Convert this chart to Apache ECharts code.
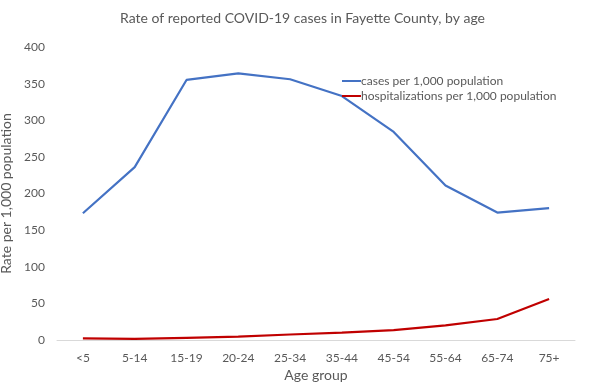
<!DOCTYPE html>
<html><head><meta charset="utf-8">
<script src="https://cdn.jsdelivr.net/npm/echarts@6/dist/echarts.min.js"></script>
<style>html,body{margin:0;padding:0;background:#fff}#c{width:595px;height:391px}</style>
</head><body><div id="c"></div>
<script>
const categories = ['<5','5-14','15-19','20-24','25-34','35-44','45-54','55-64','65-74','75+'];
const cases = [173, 236, 355, 364, 356, 333, 284, 211, 174, 180];
const hosp = [2.3, 1.4, 3, 4.5, 7.5, 10, 13.6, 20, 28.7, 56];
const yTicks = [0, 50, 100, 150, 200, 250, 300, 350, 400];
const font = 'Lato, "Open Sans", sans-serif';
const chart = echarts.init(document.getElementById('c'));
chart.setOption({
  animation: false,
  textStyle: { fontFamily: font },
  title: { text: 'Rate of reported COVID-19 cases in Fayette County, by age', left: 115, top: 6,
    textStyle: { fontFamily: font, fontSize: 14, fontWeight: 'normal', color: '#595959' } },
  legend: { orient: 'vertical', left: 337, top: 70, itemGap: 3, itemWidth: 19, itemHeight: 2,
    icon: 'rect', textStyle: { fontFamily: font, fontSize: 12, color: '#595959', padding: [0,0,0,-5] },
    data: ['cases per 1,000 population', 'hospitalizations per 1,000 population'] },
  grid: { left: 57, right: 20, top: 47, bottom: 51, outerBoundsMode: 'none', containLabel: false },
  xAxis: { type: 'category', data: categories, boundaryGap: true,
    name: 'Age group', nameLocation: 'middle', nameGap: 28,
    nameTextStyle: { fontFamily: font, fontSize: 14, color: '#595959' },
    axisLine: { lineStyle: { color: '#d9d9d9' } }, axisTick: { show: false },
    axisLabel: { fontFamily: font, fontSize: 12, color: '#595959', margin: 12, interval: 0 } },
  yAxis: { type: 'value', min: 0, max: 400, interval: 50,
    name: 'Rate per 1,000 population', nameLocation: 'middle', nameGap: 43,
    nameTextStyle: { fontFamily: font, fontSize: 14, color: '#595959' },
    splitLine: { show: false }, axisLine: { show: false }, axisTick: { show: false },
    axisLabel: { fontFamily: font, fontSize: 12, color: '#595959', margin: 12,
      formatter: v => yTicks.includes(v) ? String(v) : '' } },
  series: [
    { name: 'cases per 1,000 population', type: 'line', data: cases, symbol: 'none',
      lineStyle: { color: '#4472C4', width: 2.2 }, itemStyle: { color: '#4472C4' } },
    { name: 'hospitalizations per 1,000 population', type: 'line', data: hosp, symbol: 'none',
      lineStyle: { color: '#C00000', width: 2.2 }, itemStyle: { color: '#C00000' } }
  ]
});
</script></body></html>
